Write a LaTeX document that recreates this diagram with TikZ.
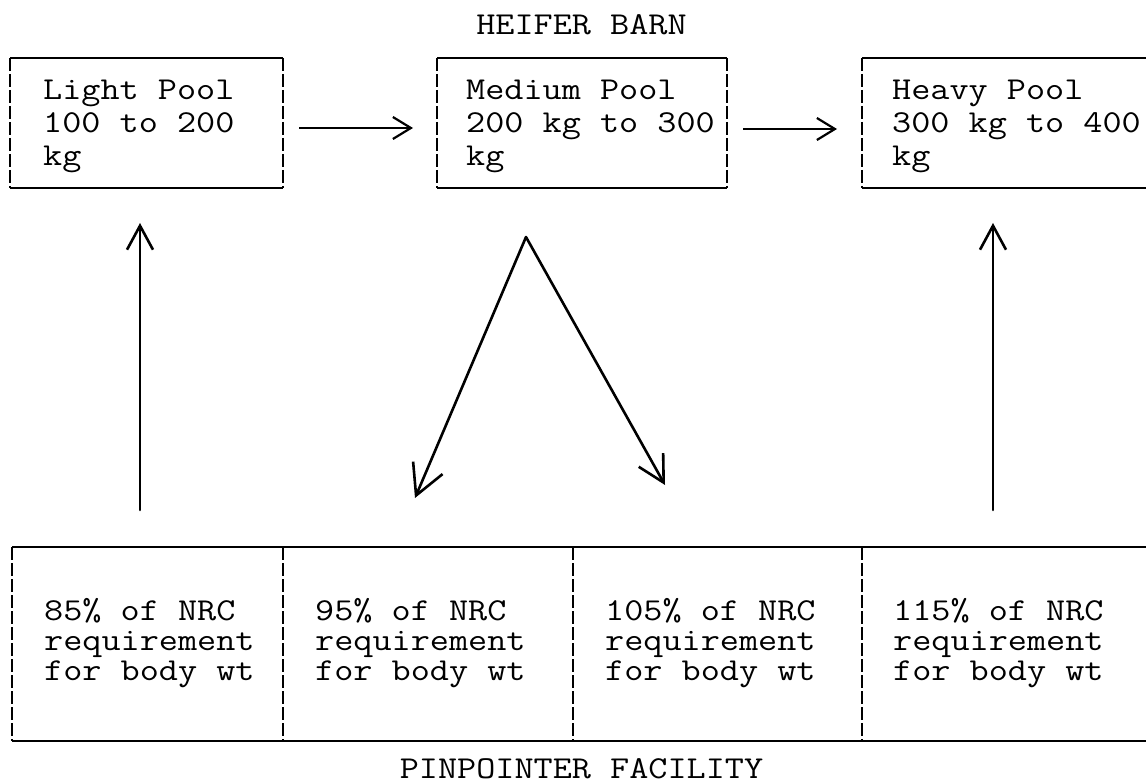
\documentclass[tikz,border=0pt]{standalone}
\usepackage{graphicx}
\usetikzlibrary{arrows.meta}
\newcommand\tw[1]{\scalebox{1.164}[1]{#1}}
\begin{document}
\begin{tikzpicture}[x=1pt,y=-1pt,
  txt/.style={font=\ttfamily\fontsize{31.9}{33}\selectfont, inner sep=0pt, anchor=base west},
  ttl/.style={font=\ttfamily\fontsize{31.9}{33}\selectfont, inner sep=0pt, anchor=base},
  area/.style={inner sep=0pt, outer sep=0pt, anchor=north west, minimum height=130pt},
  cell/.style={inner sep=0pt, outer sep=0pt, anchor=north west, minimum height=194pt},
  hline/.style={line width=2pt},
  vline/.style={line width=2pt, dash pattern=on 13pt off 3pt},
  typedarrow/.style={line width=2.2pt, -{Straight Barb[length=18pt,width=22pt]}},
  handarrow/.style={line width=2.6pt, line cap=round, -{Straight Barb[length=24pt,width=26pt]}},
]
\useasboundingbox (0,0) rectangle (1146,783);
\clip (0,0) rectangle (1146,783);
\newcommand\typedbox[1]{%
  \draw[hline] (#1.north west) -- (#1.north east) (#1.south west) -- (#1.south east);
  \draw[vline] (#1.north west) -- (#1.south west) (#1.north east) -- (#1.south east);}

% title texts
\node[ttl] (barn) at (581.5,35) {\tw{HEIFER BARN}};
\node[ttl] (facility) at (581.5,778) {\tw{PINPOINTER FACILITY}};

% top boxes
\node[area, minimum width=273pt] (light) at (10,58) {};
\node[area, minimum width=290pt] (medium) at (437,58) {};
\node[area, minimum width=290pt] (heavy) at (862,58) {};
\typedbox{light}\typedbox{medium}\typedbox{heavy}

\foreach \n/\x/\a/\b/\c in {light/43/Light Pool/100 to 200/kg,
    medium/466/Medium Pool/200 kg to 300/kg,
    heavy/892/Heavy Pool/300 kg to 400/kg}{
  \node[txt] (\n-1) at (\x,100) {\tw{\a}};
  \node[txt] (\n-2) at (\x,133) {\tw{\b}};
  \node[txt] (\n-3) at (\x,166) {\tw{\c}};
}

% bottom cells
\node[cell, minimum width=271pt] (c1) at (12,547) {};
\node[cell, minimum width=290pt] (c2) at (283,547) {};
\node[cell, minimum width=289pt] (c3) at (573,547) {};
\node[cell, minimum width=290pt] (c4) at (862,547) {};
\typedbox{c1}\typedbox{c2}\typedbox{c3}\typedbox{c4}

\foreach \n/\x/\p in {c1/44/85, c2/315/95, c3/605/105, c4/893/115}{
  \node[txt] (\n-1) at (\x,620) {\tw{\p\% of NRC}};
  \node[txt] (\n-2) at (\x,650) {\tw{requirement}};
  \node[txt] (\n-3) at (\x,680) {\tw{for body wt}};
}

% horizontal typed arrows
\draw[typedarrow, shorten <=16pt, shorten >=24pt] ([yshift=-5pt]light.east) -- ([yshift=-5pt]medium.west);
\draw[typedarrow, shorten <=16pt, shorten >=25pt] ([yshift=-6pt]medium.east) -- ([yshift=-6pt]heavy.west);

% vertical hand-drawn arrows
\draw[handarrow, shorten <=37pt, shorten >=35pt] ([xshift=-7.5pt]c1.north) -- ([xshift=-6.5pt]light.south);
\draw[handarrow, shorten <=37pt, shorten >=35pt] ([xshift=-14pt]c4.north) -- ([xshift=-14pt]heavy.south);

% diagonal arrows from the medium pool
\coordinate (apex) at (526,237);
\coordinate (tipL) at (415,498);
\coordinate (tipR) at (665,485);
\draw[line width=2.6pt, line cap=round, -{Straight Barb[length=30pt,width=32pt]}] (apex) -- (tipL);
\draw[line width=2.6pt, line cap=round, -{Straight Barb[length=26pt,width=28pt]}] (apex) -- (tipR);
\end{tikzpicture}
\end{document}
